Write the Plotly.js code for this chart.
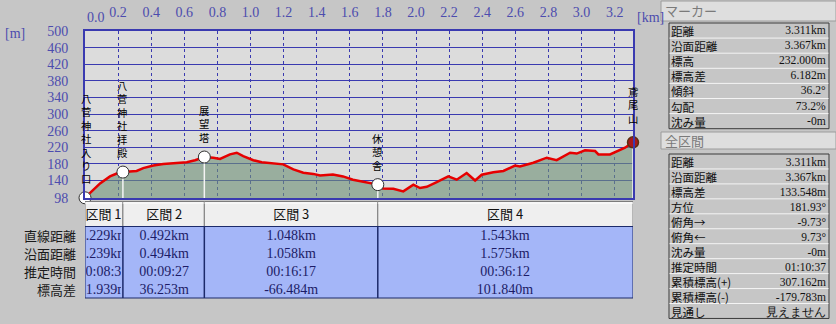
<!DOCTYPE html>
<html><head><meta charset="utf-8">
<script src="https://cdn.plot.ly/plotly-3.0.1.min.js"></script>
<style>html,body{margin:0;padding:0;background:#c6c6c6;overflow:hidden}#chart{width:836px;height:324px}</style>
</head><body><div id="chart"></div>
<script>
// ---- data ----
const profileDist = [0.000,0.040,0.091,0.151,0.192,0.229,0.272,0.312,0.352,0.413,0.473,0.554,0.615,0.665,0.721,0.775,0.816,0.876,0.917,0.956,1.017,1.068,1.098,1.158,1.198,1.259,1.319,1.379,1.420,1.498,1.559,1.619,1.702,1.769,1.802,1.863,1.923,1.984,2.024,2.065,2.125,2.195,2.246,2.306,2.357,2.397,2.467,2.528,2.598,2.628,2.709,2.790,2.850,2.931,2.971,3.021,3.082,3.102,3.172,3.213,3.263,3.311];
const profileElev = [98.5,114,133,150,157,160.4,162.6,163,170,176,180,183,184,189,196.6,195,192,203,207,199,189,184,183,180,179,167,159,156,152,154.5,150,142,136,130.2,121,120,114,130,122,125,136,150,142,158,140,154,160,163,176,174,183,195,189,207,205,213,211,203,203,211,219,232];
const markerNames = ['八菅神社入り口','八菅神社拝殿','展望塔','休憩舎','鳶尾山'];
const markerDist = [0, 0.229, 0.721, 1.769, 3.311];
const markerElev = [98.452, 160.391, 196.644, 130.160, 232.000];
const yTickVals = [98,140,180,220,260,300,340,380,420,460,500];
const xTickVals = [0,0.2,0.4,0.6,0.8,1.0,1.2,1.4,1.6,1.8,2.0,2.2,2.4,2.6,2.8,3.0,3.2];
const xTickText = ['0.0','0.2','0.4','0.6','0.8','1.0','1.2','1.4','1.6','1.8','2.0','2.2','2.4','2.6','2.8','3.0','3.2'];
const sectionNames = ['区間 1','区間 2','区間 3','区間 4'];
const rowLabels = ['直線距離','沿面距離','推定時間','標高差'];
const sectStraight = ['0.229km','0.492km','1.048km','1.543km'];
const sectSurface = ['0.239km','0.494km','1.058km','1.575km'];
const sectTime = ['00:08:39','00:09:27','00:16:17','00:36:12'];
const sectElevDiff = ['61.939m','36.253m','-66.484m','101.840m'];
const markerPanelTitle = 'マーカー';
const markerPanelLabels = ['距離','沿面距離','標高','標高差','傾斜','勾配','沈み量'];
const markerPanelValues = ['3.311km','3.367km','232.000m','6.182m','36.2°','73.2%','-0m'];
const totalPanelTitle = '全区間';
const totalPanelLabels = ['距離','沿面距離','標高差','方位','俯角→','俯角←','沈み量','推定時間','累積標高(+)','累積標高(-)','見通し'];
const totalPanelValues = ['3.311km','3.367km','133.548m','181.93°','-9.73°','9.73°','-0m','01:10:37','307.162m','-179.783m','見えません'];

// ---- geometry ----
const W = 836, H = 324, L = 85, R = 633, T = 31, B = 198;
const px = x => (x - L) / (R - L);
const py = y => (B - y) / (B - T);
const xMax = markerDist[markerDist.length - 1];
const pxPerKm = (R - L) / xMax;
const JP = '"Noto Sans CJK JP", "Noto Sans", sans-serif';
const NUM = '"Liberation Serif", serif';
const BLUE = '#3a3ab0';
const TICK = '#4c4cae';
const NAVY = '#1c1c66';

// ---- traces ----
const stemX = [], stemY = [];
markerDist.forEach((d, i) => { stemX.push(d, d, null); stemY.push(yTickVals[0], markerElev[i], null); });
const last = markerDist.length - 1;
const traces = [
  {x: profileDist, y: profileElev, type: 'scatter', mode: 'lines', fill: 'tozeroy',
   fillcolor: 'rgba(112,146,120,0.62)', line: {width: 0, color: 'rgba(0,0,0,0)'}, hoverinfo: 'skip'},
  {x: stemX, y: stemY, type: 'scatter', mode: 'lines', line: {color: '#f4f4f4', width: 1.5}, hoverinfo: 'skip'},
  {x: profileDist, y: profileElev, type: 'scatter', mode: 'lines', line: {color: '#e60000', width: 2.5}, hoverinfo: 'skip'},
  {x: markerDist.slice(0, last), y: markerElev.slice(0, last), type: 'scatter', mode: 'markers', cliponaxis: false,
   marker: {size: 12, color: '#ffffff', line: {color: '#303030', width: 1}}, hoverinfo: 'skip'},
  {x: [markerDist[last]], y: [markerElev[last]], type: 'scatter', mode: 'markers', cliponaxis: false,
   marker: {size: 11, symbol: 'circle', color: '#a8181c', line: {color: '#5a3010', width: 1.5}}, hoverinfo: 'skip'}
];

// ---- shapes & annotations ----
const shapes = [], ann = [];
const rect = (x0, y0, x1, y1, fill, lc, lw) => shapes.push({type: 'rect', xref: 'paper', yref: 'paper',
  x0: px(x0), x1: px(x1), y0: py(y1), y1: py(y0), fillcolor: fill, line: {color: lc, width: lw || 1}, layer: 'above'});
const hline = (x0, x1, y, c, w) => shapes.push({type: 'line', xref: 'paper', yref: 'paper', x0: px(x0), x1: px(x1), y0: py(y), y1: py(y), line: {color: c, width: w || 1}, layer: 'above'});
const text = (x, y, t, o) => ann.push(Object.assign({xref: 'paper', yref: 'paper', x: px(x), y: py(y), text: t, showarrow: false,
  xanchor: 'left', yanchor: 'middle', borderpad: 0, font: {family: JP, size: 13, color: '#111'}}, o || {}));

// axis units & first tick label
text(4, 33, '[m]', {font: {family: NUM, size: 14, color: TICK}});
text(636, 17, '[km]', {font: {family: NUM, size: 14, color: TICK}});
text(96, 17, xTickText[0], {xanchor: 'center', font: {family: NUM, size: 14, color: TICK}});

// marker labels (vertical text, one character per line)
markerNames.forEach((n, i) => {
  ann.push({xref: 'x', yref: 'y', x: markerDist[i], y: markerElev[i], text: n.split('').join('<br>'),
    showarrow: false, xanchor: 'center', yanchor: 'bottom', borderpad: 0, yshift: i === last ? 15 : 11,
    xshift: i === 0 ? 1 : 0, font: {family: JP, size: 10.3, color: '#000'}});
});

// section table
const hTop = 201.5, hBot = 226.5, dBot = 298;
sectionNames.forEach((s, i) => {
  shapes.push({type: 'rect', xref: 'x', yref: 'paper', x0: markerDist[i], x1: markerDist[i + 1], y0: py(hBot), y1: py(hTop),
    fillcolor: '#efefef', line: {color: '#7c7c7c', width: 1}, layer: 'above'});
  shapes.push({type: 'line', xref: 'x', yref: 'paper', x0: markerDist[i], x1: markerDist[i + 1], y0: py(hTop + 1.5), y1: py(hTop + 1.5),
    line: {color: '#ffffff', width: 1}, layer: 'above'});
});
shapes.push({type: 'rect', xref: 'x', yref: 'paper', x0: 0, x1: xMax, y0: py(dBot), y1: py(hBot),
  fillcolor: '#a4b6f8', line: {color: '#1c2a6a', width: 1}, layer: 'above'});
for (let i = 1; i < last; i++) shapes.push({type: 'line', xref: 'x', yref: 'paper', x0: markerDist[i], x1: markerDist[i], y0: py(dBot), y1: py(hBot),
  line: {color: '#1c2a6a', width: 1.5}, layer: 'above'});
const rowsY = [235.5, 253.3, 271, 289];
const sectRows = [sectStraight, sectSurface, sectTime, sectElevDiff];
sectionNames.forEach((s, i) => {
  const mid = (markerDist[i] + markerDist[i + 1]) / 2;
  const w = Math.max(10, (markerDist[i + 1] - markerDist[i]) * pxPerKm - 3);
  ann.push({xref: 'x', yref: 'paper', x: mid, y: py(213.5), text: s, showarrow: false, width: w, align: 'center', borderpad: 0,
    xanchor: 'center', yanchor: 'middle', font: {family: JP, size: 13, color: '#111'}});
  sectRows.forEach((row, r) => ann.push({xref: 'x', yref: 'paper', x: mid, y: py(rowsY[r]), text: row[i], showarrow: false,
    width: w, align: 'center', borderpad: 0, xanchor: 'center', yanchor: 'middle', font: {family: NUM, size: 14, color: NAVY}}));
});
rowLabels.forEach((l, r) => text(77, rowsY[r], l, {xanchor: 'right', font: {family: JP, size: 13, color: '#1a1a1a'}}));

// right panels: labels and values as one multi-line block each (line pitch = row height)
function panel(title, labels, values, hy0, hy1, ty0, rowH) {
  rect(661, hy0, 836, hy1, '#dedede', '#9c9c9c', 1);
  text(664, (hy0 + hy1) / 2, title, {font: {family: JP, size: 13, color: '#7a7a7a'}});
  const ty1 = ty0 + rowH * labels.length;
  rect(669, ty0, 829, ty1, 'rgba(0,0,0,0)', '#3a3a3a', 1);
  for (let k = 1; k < labels.length; k++) hline(669.5, 828.5, ty0 + rowH * k, '#f4f4f4', 1);
  const fs = rowH / 1.3;
  const cy = (ty0 + ty1) / 2 + 0.5;
  text(670, cy, labels.join('<br>'), {align: 'left', font: {family: JP, size: fs, color: '#111'}});
  text(827, cy, values.join('<br>'), {xanchor: 'right', align: 'right', font: {family: NUM, size: fs, color: '#111'}});
}
panel(markerPanelTitle, markerPanelLabels, markerPanelValues, 1, 21, 23, 15.1);
panel(totalPanelTitle, totalPanelLabels, totalPanelValues, 132, 149, 154, 14.95);

const layout = {
  width: W, height: H, margin: {l: L, r: W - R, t: T, b: H - B, pad: 0},
  paper_bgcolor: '#c6c6c6', plot_bgcolor: '#dcdcdc', showlegend: false,
  xaxis: {range: [0, xMax], side: 'top', tickvals: xTickVals, ticktext: xTickText.map((t, i) => i === 0 ? '' : t),
    showgrid: true, gridcolor: BLUE, griddash: 'dot', gridwidth: 1, zeroline: false, showline: true, mirror: true,
    linecolor: BLUE, linewidth: 2, ticks: '', ticklabelstandoff: 6, tickfont: {family: NUM, size: 14, color: TICK}, fixedrange: true},
  yaxis: {range: [yTickVals[0], yTickVals[yTickVals.length - 1]], tickvals: yTickVals, showgrid: true, gridcolor: BLUE, gridwidth: 1,
    zeroline: false, showline: true, mirror: true, linecolor: BLUE, linewidth: 2, ticks: '', ticklabelstandoff: 12,
    tickfont: {family: NUM, size: 14, color: TICK}, fixedrange: true},
  shapes: shapes, annotations: ann
};
Plotly.newPlot('chart', traces, layout, {staticPlot: true, displayModeBar: false});
</script></body></html>
